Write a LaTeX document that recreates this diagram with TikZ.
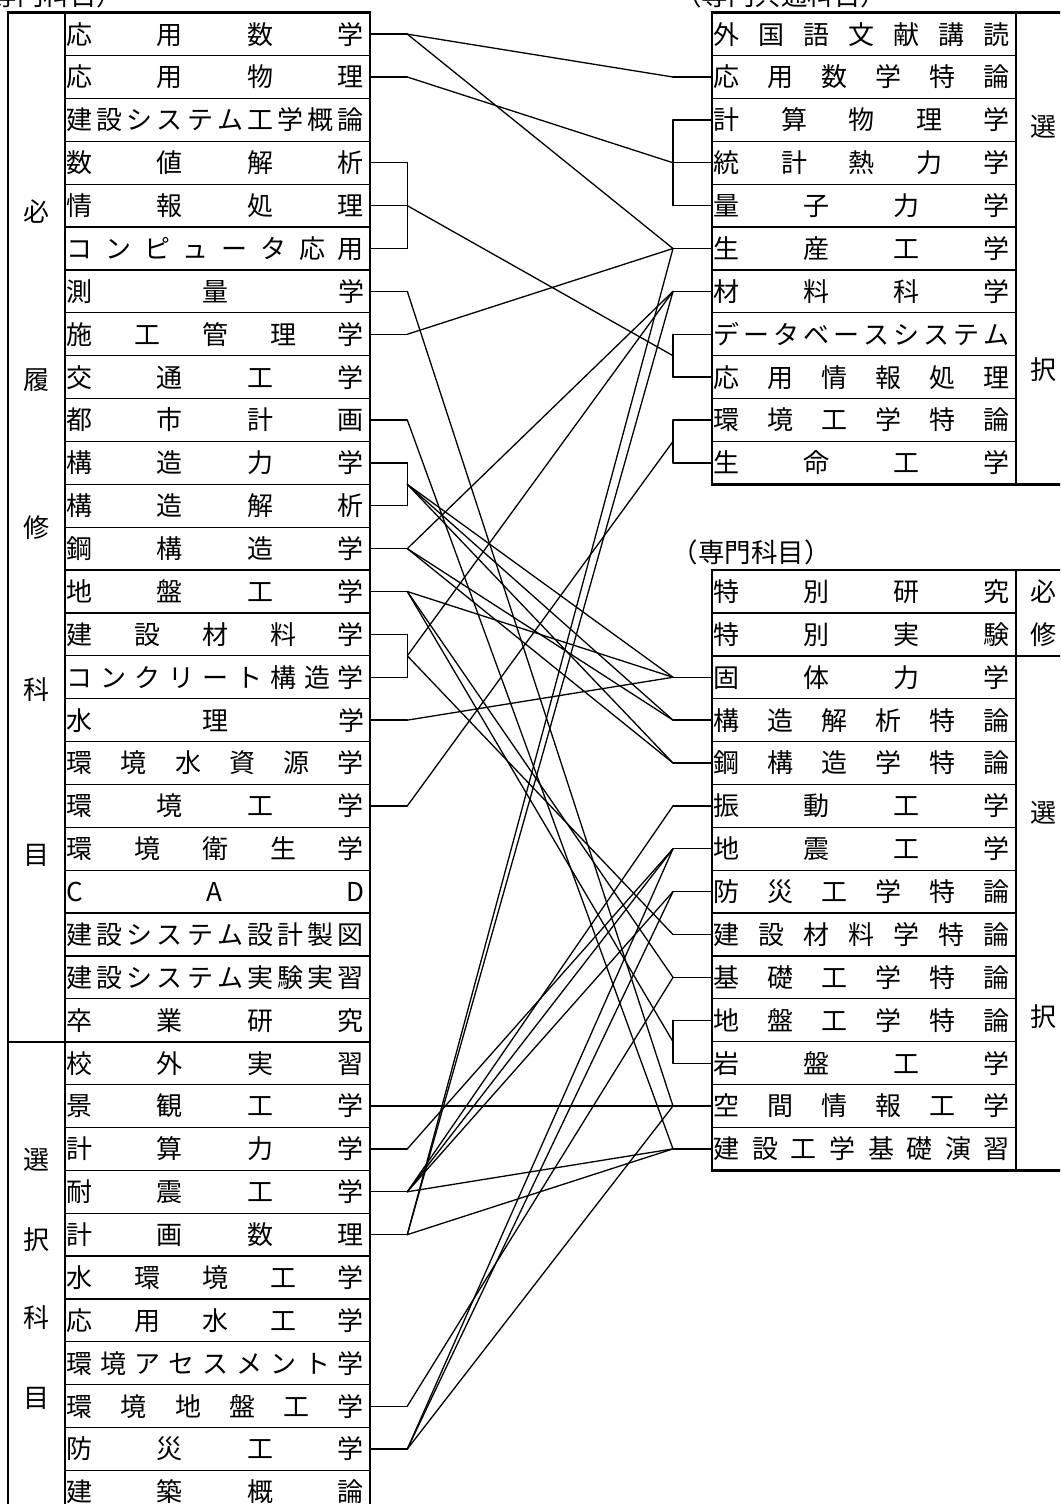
\documentclass[tikz,border=0pt]{standalone}
\usepackage{fontspec}
\usetikzlibrary{calc}
\newfontfamily\jpfont{Noto Sans CJK JP}
\def\spreadchars#1{\spreadA#1\relax}
\def\spreadA#1{#1\spreadB}
\def\spreadB#1{\ifx\relax#1\else\hfill#1\expandafter\spreadB\fi}
\newcommand\cellbox[2]{\hbox to #1pt{\hskip1.5pt\vrule height 0.88em depth 0.12em width 0pt\expandafter\spreadchars\expandafter{#2}\hskip6pt}}
\begin{document}
\begin{tikzpicture}[x=1pt,y=-1pt,
  cell/.style={draw, line width=1.2pt, rectangle, minimum height=42.875pt, inner sep=0pt, outer sep=0pt, font=\jpfont\fontsize{26}{30}\selectfont},
  cat/.style={inner sep=0pt, font=\jpfont\fontsize{26}{30}\selectfont},
  hdr/.style={inner sep=0pt, font=\jpfont\fontsize{26.5}{30}\selectfont},
  conn/.style={line width=1.3pt, line cap=round, line join=round},
  frame/.style={line width=2.6pt},
]
\path[use as bounding box] (0,0) rectangle (1060,1504);
\fill[white] (0,0) rectangle (1060,1504);
\clip (0,0) rectangle (1060,1504);

% ---------- left table ----------
\foreach \t [count=\i from 0] in {応用数学,応用物理,建設システム工学概論,数値解析,情報処理,コンピュータ応用,測量学,施工管理学,交通工学,都市計画,構造力学,構造解析,鋼構造学,地盤工学,建設材料学,コンクリート構造学,水理学,環境水資源学,環境工学,環境衛生学,CAD,建設システム設計製図,建設システム実験実習,卒業研究,校外実習,景観工学,計算力学,耐震工学,計画数理,水環境工学,応用水工学,環境アセスメント学,環境地盤工学,防災工学,建築概論}
  \node[cell] (L\i) at (217.5,{12.7+(\i+0.5)*42.875}) {\cellbox{305}{\t}};

% ---------- right upper table ----------
\foreach \t [count=\i from 0] in {外国語文献講読,応用数学特論,計算物理学,統計熱力学,量子力学,生産工学,材料科学,データベースシステム,応用情報処理,環境工学特論,生命工学}
  \node[cell] (U\i) at (864,{12.7+(\i+0.5)*42.875}) {\cellbox{304}{\t}};

% ---------- right lower table ----------
\foreach \t [count=\i from 0] in {特別研究,特別実験,固体力学,構造解析特論,鋼構造学特論,振動工学,地震工学,防災工学特論,建設材料学特論,基礎工学特論,地盤工学特論,岩盤工学,空間情報工学,建設工学基礎演習}
  \node[cell] (S\i) at (864,{12.7+(\i+13.5)*42.875}) {\cellbox{304}{\t}};

% ---------- frames ----------
\draw[frame] (8,1530) -- (8,12.7) -- (370,12.7) -- (370,1530);
\draw[line width=1.2pt] (65,12.7) -- (65,1530);
\draw[line width=2.2pt] (8,1041.7) -- (370,1041.7);
\draw[frame] (1075,12.7) -- (712,12.7) -- (712,484.3) -- (1075,484.3);
\draw[frame] (1075,570.1) -- (712,570.1) -- (712,1170.4) -- (1075,1170.4);
\draw[line width=2.2pt] (712,655.85) -- (1075,655.85);

% ---------- category labels ----------
\node[cat] (kA1) at (36.5,212) {必};
\node[cat] (kA2) at (36.5,380) {履};
\node[cat] (kA3) at (36.5,528) {修};
\node[cat] (kA4) at (36.5,690) {科};
\node[cat] (kA5) at (36.5,855) {目};
\node[cat] (kB1) at (36.5,1160) {選};
\node[cat] (kB2) at (36.5,1240) {択};
\node[cat] (kB3) at (36.5,1318) {科};
\node[cat] (kB4) at (36.5,1398) {目};
\node[cat] (kC1) at (1043,127) {選};
\node[cat] (kC2) at (1043,370) {択};
\node[cat] (kD1) at (1043,591.5) {必};
\node[cat] (kD2) at (1043,634.4) {修};
\node[cat] (kD3) at (1043,813) {選};
\node[cat] (kD4) at (1043,1017) {択};

% ---------- headers ----------
\node[hdr] (h1) at (44,-5) {（専門科目）};
\node[hdr] (h2) at (781,-5) {（専門共通科目）};
\node[hdr] (h3) at (751,552) {（専門科目）};

% ---------- junction coordinates ----------
\foreach \k in {0,1,3,4,5,6,7,9,10,11,12,13,14,15,16,18,26,27,28,32,33}
  \path (L\k.east) ++(37.3,0) coordinate (e\k);
\foreach \k in {1,2,3,4,5,6,7,8,9,10}
  \path (U\k.west) ++(-39,0) coordinate (f\k);
\foreach \k in {2,3,4,5,6,7,8,9,10,11,12,13}
  \path (S\k.west) ++(-39,0) coordinate (g\k);
\coordinate (a10) at ($(e10)!0.5!(e11)$);
\coordinate (a14) at ($(e14)!0.5!(e15)$);
\coordinate (b78) at ($(f7)!0.5!(f8)$);
\coordinate (b910) at ($(f9)!0.5!(f10)$);
\coordinate (c1011) at ($(g10)!0.5!(g11)$);

% ---------- stubs and brackets ----------
\foreach \k in {0,1,3,4,5,6,7,9,10,11,12,13,14,15,16,18,26,27,28,32,33}
  \draw[conn] (L\k.east) -- (e\k);
\foreach \k in {1,2,3,4,5,6,7,8,9,10}
  \draw[conn] (f\k) -- (U\k.west);
\foreach \k in {2,3,4,5,6,7,8,9,10,11,12,13}
  \draw[conn] (g\k) -- (S\k.west);
\draw[conn] (e3) -- (e5);
\draw[conn] (e10) -- (e11);
\draw[conn] (e14) -- (e15);
\draw[conn] (f2) -- (f4);
\draw[conn] (f7) -- (f8);
\draw[conn] (f9) -- (f10);
\draw[conn] (g10) -- (g11);

% ---------- connectors ----------
\draw[conn] (e0) -- (f1);
\draw[conn] (e0) -- (f5);
\draw[conn] (e1) -- (f3);
\draw[conn] (e4) -- (b78);
\draw[conn] (e6) -- (g12);
\draw[conn] (e7) -- (f5);
\draw[conn] (e9) -- (g13);
\foreach \t in {g2,g3,g4} \draw[conn] (a10) -- (\t);
\foreach \t in {f6,g3,g4} \draw[conn] (e12) -- (\t);
\foreach \t in {g2,g9,c1011} \draw[conn] (e13) -- (\t);
\foreach \t in {f6,g8} \draw[conn] (a14) -- (\t);
\draw[conn] (e16) -- (g2);
\draw[conn] (e18) -- (b910);
\draw[conn] (L25.east) -- (S12.west);
\draw[conn] (e26) -- (g6);
\foreach \t in {g5,g6,g7,g13} \draw[conn] (e27) -- (\t);
\foreach \t in {f5,f6,g13} \draw[conn] (e28) -- (\t);
\draw[conn] (e32) -- (g9);
\foreach \t in {g6,g7,g12} \draw[conn] (e33) -- (\t);
\end{tikzpicture}
\end{document}
